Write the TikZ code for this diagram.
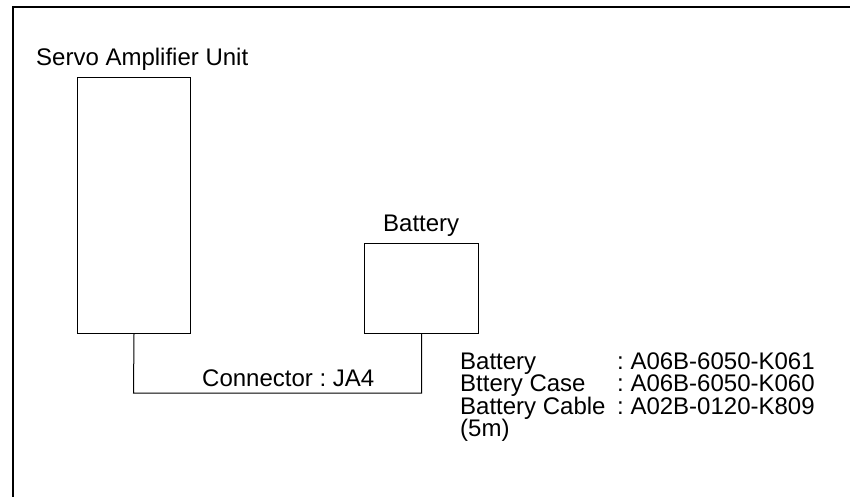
\documentclass[tikz,border=0pt]{standalone}
\usepackage{fontspec}
\setmainfont{Liberation Sans}
\frenchspacing
\begin{document}
\begin{tikzpicture}[x=1pt,y=-1pt,
  box/.style={draw, line width=1pt, rectangle, inner sep=0pt, anchor=north west},
  lbl/.style={anchor=base west, inner sep=0pt, font=\fontsize{24}{28}\selectfont\frenchspacing},
  wire/.style={line width=1pt}]
\useasboundingbox (0,0) rectangle (850,496);
\clip (0,0) rectangle (850,496);
\draw[line width=2.8pt] (13,520) -- (13,7) -- (870,7);
% servo amplifier unit
\node[box, minimum width=113pt, minimum height=256pt] (servo) at (77,77) {};
\node[lbl] (servolbl) at (36,65) {Servo Amplifier Unit};
% battery
\node[box, minimum width=114pt, minimum height=90pt] (bat) at (364,243) {};
\node[lbl] (batlbl) at (383,231) {Battery};
% connector
\coordinate (c1) at (133.5,393);
\draw[wire] (servo.south) -- (c1) -| (bat.south);
\node[lbl] (connlbl) at (202,386) {Connector : JA4};
% spec list
\node[lbl] (s1) at (460,369) {Battery};
\node[lbl] (s2) at (460,391.5) {Bttery Case};
\node[lbl] (s3) at (460,414) {Battery Cable};
\node[lbl] (s4) at (460,436.5) {(5m)};
\node[lbl] (v1) at (617,369) {: A06B-6050-K061};
\node[lbl] (v2) at (617,391.5) {: A06B-6050-K060};
\node[lbl] (v3) at (617,414) {: A02B-0120-K809};
\end{tikzpicture}
\end{document}
